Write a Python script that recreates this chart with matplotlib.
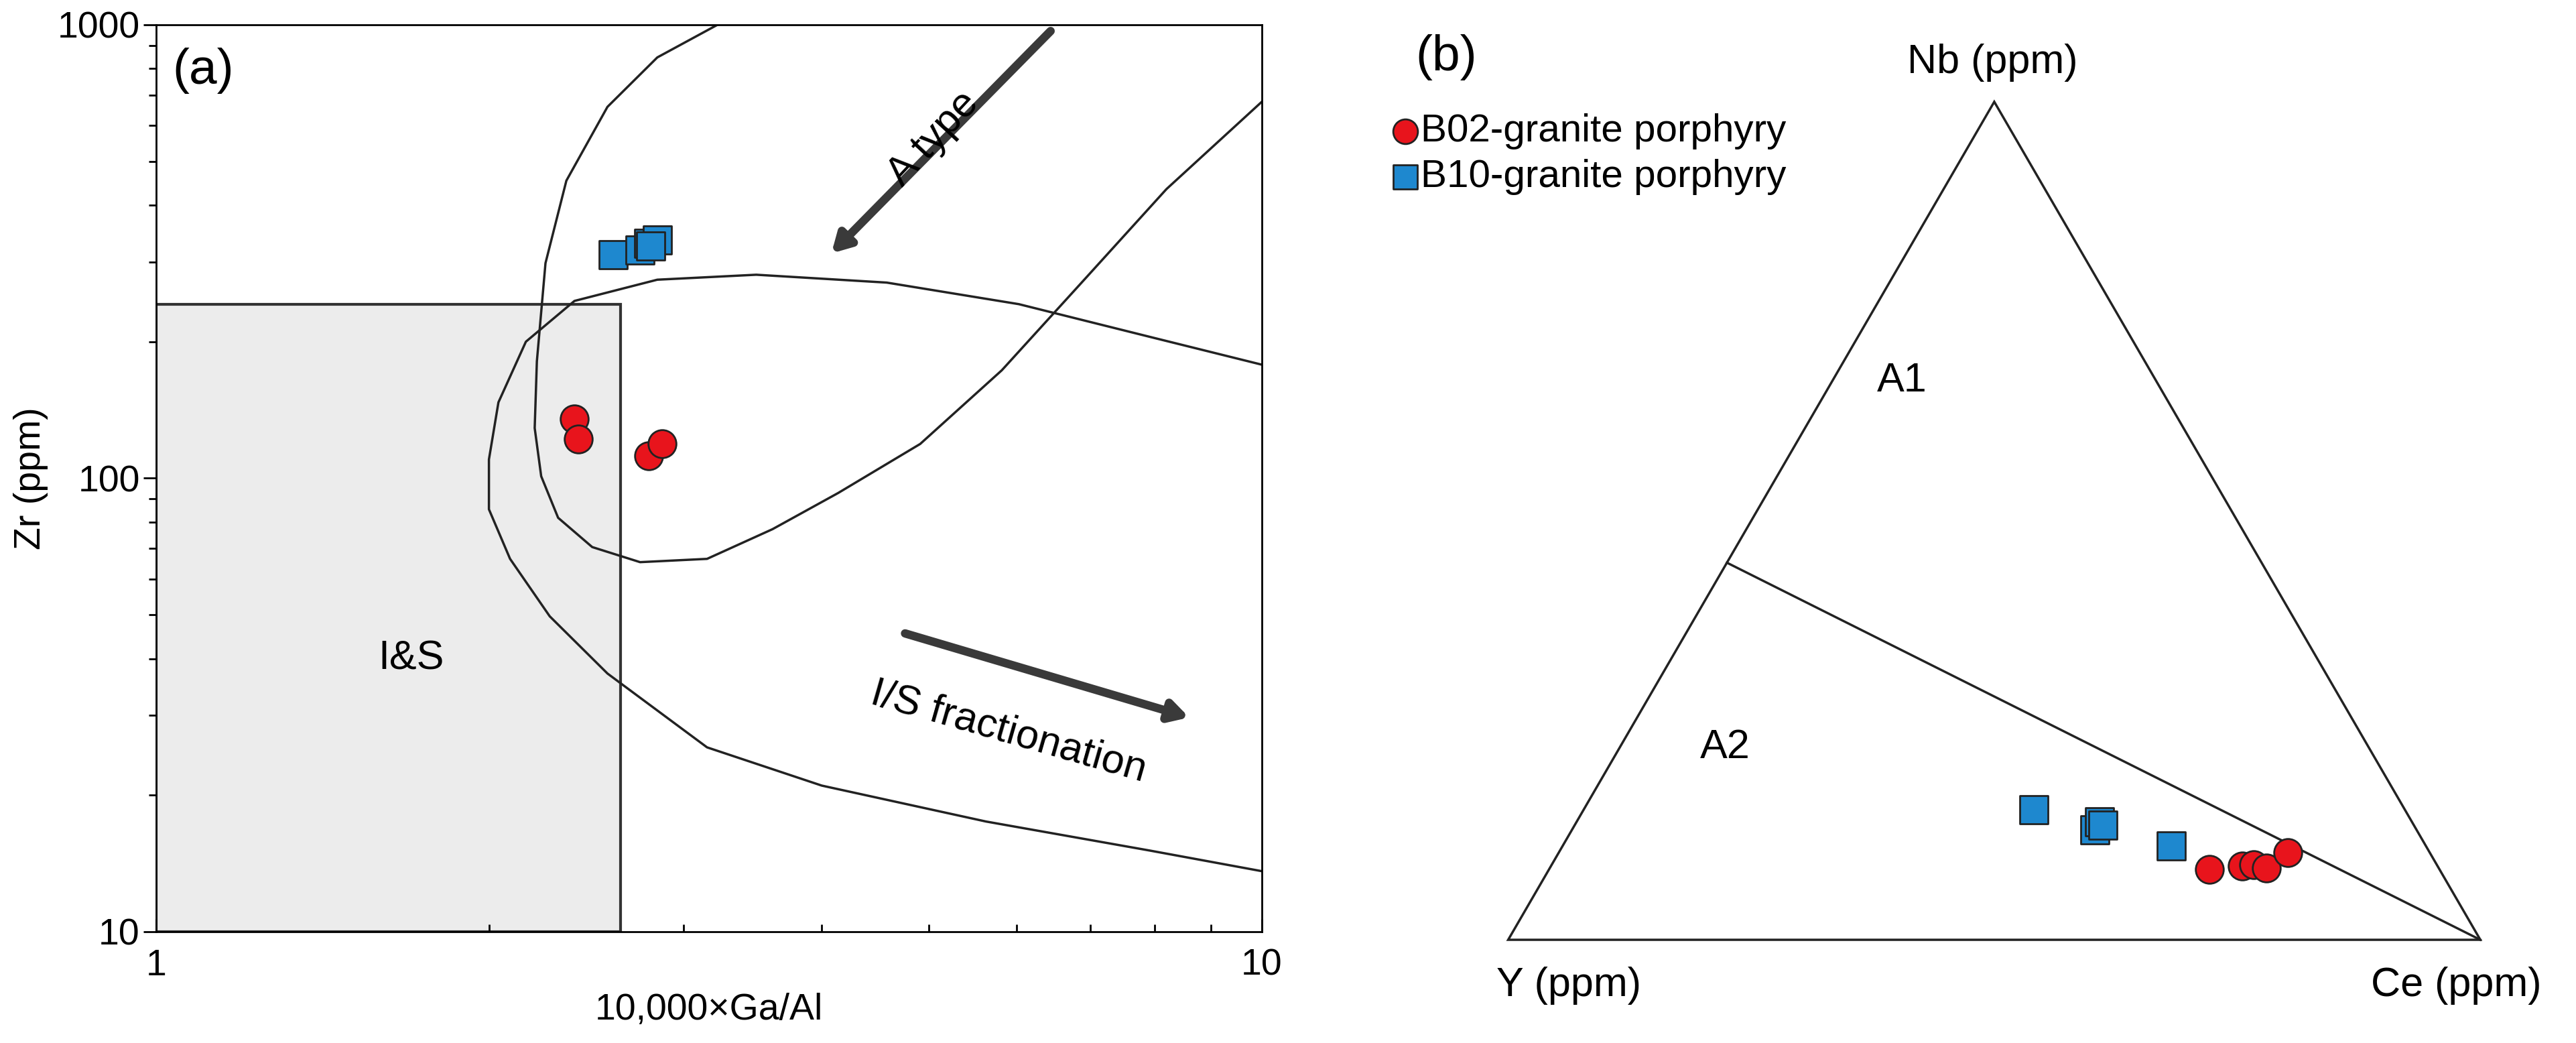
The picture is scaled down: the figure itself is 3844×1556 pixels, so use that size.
import matplotlib
matplotlib.use("Agg")
import matplotlib.pyplot as plt
from matplotlib.patches import Rectangle, Polygon
import numpy as np

plt.rcParams['font.family'] = ['Liberation Sans', 'DejaVu Sans']

# ---- panel (a) data: 10000*Ga/Al vs Zr ----
b02_gaal = [2.39, 2.41, 2.79, 2.87]
b02_zr = [135, 122, 112, 119]
b10_gaal = [2.59, 2.74, 2.79, 2.84, 2.80]
b10_zr = [311, 319, 330, 335, 325]

# A-type field boundary
atype_x = [3.22, 2.84, 2.56, 2.35, 2.25, 2.21, 2.20, 2.23, 2.31, 2.48, 2.74, 3.15,
           3.61, 4.14, 4.91, 5.82, 6.91, 8.20, 10.0]
atype_y = [1000, 847, 659, 453, 298, 181, 129, 101, 81.8, 70.5, 65.3, 66.4,
           77.2, 92.8, 119, 173, 274, 434, 676]
# fractionated I/S field boundary
fis_x = [10.0, 7.92, 6.03, 4.58, 3.49, 2.84, 2.39, 2.16, 2.04, 2.00, 2.00, 2.09,
         2.27, 2.56, 3.15, 4.00, 5.63, 7.92, 10.0]
fis_y = [178, 205, 242, 270, 281, 274, 246, 200, 147, 110, 85.4, 66.4,
         49.6, 37.1, 25.5, 21.0, 17.5, 15.1, 13.6]
is_box = (1.0, 10.0, 2.63, 242)  # xmin, ymin, xmax, ymax

# ---- panel (b) data: ternary Y - Nb - Ce (fractions nb, ce) ----
b02_nb = [0.084, 0.088, 0.090, 0.086, 0.104]
b02_ce = [0.679, 0.711, 0.722, 0.737, 0.750]
b10_nb = [0.155, 0.131, 0.141, 0.137, 0.112]
b10_ce = [0.463, 0.538, 0.538, 0.543, 0.626]
a1a2_nb = 0.45  # start of the A1/A2 line on the Y-Nb edge

red = '#e8141c'
blue = '#1e88cf'

fig = plt.figure(figsize=(38.44, 15.56), dpi=100)

ax = fig.add_axes([0.0606, 0.1067, 0.4292, 0.8696])
ax.set_xscale('log')
ax.set_yscale('log')
ax.set_xlim(1, 10)
ax.set_ylim(10, 1000)
ax.add_patch(Rectangle((is_box[0], is_box[1]), is_box[2] - is_box[0], is_box[3] - is_box[1],
                       facecolor='#ececec', edgecolor='#333333', lw=3, zorder=1))
ax.plot(atype_x, atype_y, color='#222222', lw=2.5, zorder=2)
ax.plot(fis_x, fis_y, color='#222222', lw=2.5, zorder=2)
ax.annotate('', xy=(4.07, 311), xytext=(6.46, 975),
            arrowprops=dict(arrowstyle='-|>,head_width=0.9,head_length=1.6', lw=9, color='#3a3a3a'))
ax.annotate('', xy=(8.63, 29.6), xytext=(4.74, 45.6),
            arrowprops=dict(arrowstyle='-|>,head_width=0.9,head_length=1.6', lw=9, color='#3a3a3a'))
ax.text(5.05, 560, 'A type', rotation=47, fontsize=44, ha='center', va='center')
ax.text(5.9, 27.5, 'I/S fractionation', rotation=-16, fontsize=44, ha='center', va='center')
ax.text(1.7, 40, 'I&S', fontsize=44, ha='center', va='center')
ax.text(0.015, 0.975, '(a)', transform=ax.transAxes, fontsize=54, ha='left', va='top')
ax.scatter(b02_gaal, b02_zr, s=900, c=red, edgecolors='#222222', linewidths=2, zorder=4)
ax.scatter(b10_gaal, b10_zr, s=900, marker='s', c=blue, edgecolors='#222222', linewidths=2, zorder=4)
ax.set_xticks([1, 10])
ax.set_xticklabels(['1', '10'])
ax.set_yticks([10, 100, 1000])
ax.set_yticklabels(['10', '100', '1000'])
ax.tick_params(axis='x', which='both', direction='in', labelsize=40, pad=18)
ax.tick_params(axis='y', which='both', direction='out', labelsize=40)
ax.tick_params(which='major', length=14, width=2)
ax.tick_params(which='minor', length=8, width=2)
ax.yaxis.set_minor_formatter(plt.NullFormatter())
ax.xaxis.set_minor_formatter(plt.NullFormatter())
ax.set_xlabel('10,000×Ga/Al', fontsize=40, labelpad=10)
ax.set_ylabel('Zr (ppm)', fontsize=40, labelpad=10)
for s in ax.spines.values():
    s.set_linewidth(2)

# ---- panel (b) ternary ----
bx = fig.add_axes([0.510, 0.0186, 0.4906, 0.924])
bx.set_xlim(-0.2, 1.1)
bx.set_ylim(-0.1, 1.05)
bx.axis('off')


def tern(nb, ce):
    nb = np.asarray(nb)
    ce = np.asarray(ce)
    return ce + nb / 2, nb


bx.add_patch(Polygon([(0, 0), (1, 0), (0.5, 1)], closed=True, fill=False, edgecolor='#222222', lw=2.5))
lx, ly = tern([a1a2_nb, 0], [0, 1])
bx.plot(lx, ly, color='#222222', lw=2.5)
px, py = tern(b10_nb, b10_ce)
bx.scatter(px, py, s=900, marker='s', c=blue, edgecolors='#222222', linewidths=2, zorder=4)
px, py = tern(b02_nb, b02_ce)
bx.scatter(px, py, s=900, c=red, edgecolors='#222222', linewidths=2, zorder=4)
bx.text(0.498, 1.047, 'Nb (ppm)', fontsize=44, ha='center', va='center')
bx.text(0.062, -0.055, 'Y (ppm)', fontsize=44, ha='center', va='center')
bx.text(0.975, -0.055, 'Ce (ppm)', fontsize=44, ha='center', va='center')
bx.text(-0.064, 1.053, '(b)', fontsize=54, ha='center', va='center')
bx.text(0.405, 0.667, 'A1', fontsize=44, ha='center', va='center')
bx.text(0.223, 0.229, 'A2', fontsize=44, ha='center', va='center')
bx.scatter([-0.106], [0.965], s=700, c=red, edgecolors='#222222', linewidths=2, clip_on=False)
bx.scatter([-0.106], [0.91], s=700, marker='s', c=blue, edgecolors='#222222', linewidths=2, clip_on=False)
bx.text(-0.09, 0.965, 'B02-granite porphyry', fontsize=42, ha='left', va='center')
bx.text(-0.09, 0.91, 'B10-granite porphyry', fontsize=42, ha='left', va='center')

fig.savefig('out.png', dpi=100)
